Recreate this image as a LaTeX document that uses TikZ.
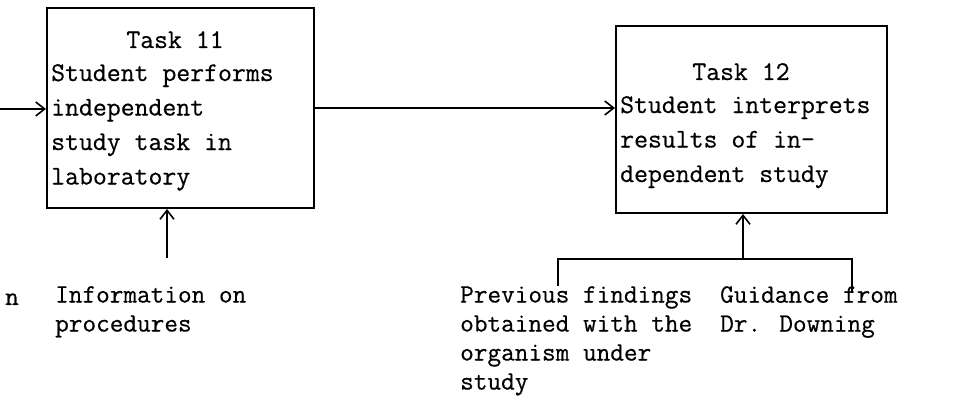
\documentclass[tikz,border=0pt]{standalone}
\usepackage{fontspec}
\usetikzlibrary{arrows.meta}
% typewriter face, slightly heavier than the stock mono
\newfontfamily\typer{Latin Modern Mono}[FakeBold=0.5]
\begin{document}
\begin{tikzpicture}[x=1pt,y=-1pt,
  taskbox/.style={draw,line width=2pt,inner sep=0pt},
  boxtext/.style={inner sep=0pt,align=left,
    font=\typer\bfseries\fontsize{27}{34.5}\selectfont},
  srctext/.style={inner sep=0pt,align=left,
    font=\typer\bfseries\fontsize{26.5}{29}\selectfont},
  link/.style={line width=1.6pt},
  arr/.style={link,-{Straight Barb[length=9pt,width=14pt,line width=1.6pt]}}]
  \useasboundingbox (0,0) rectangle (963,419);

  % the two task boxes
  \node[taskbox,minimum width=267pt,minimum height=200pt] (t11) at (180.5,108) {};
  \node[taskbox,minimum width=271pt,minimum height=187pt] (t12) at (751.5,119.5) {};

  % box captions
  \node[boxtext,anchor=base] (t11title) at (175,48) {Task 11};
  \node[boxtext,anchor=north west] (t11body) at (51,64)
    {Student performs\\independent\\study task in\\laboratory};
  \node[boxtext,anchor=base] (t12title) at (741,80) {Task 12};
  \node[boxtext,anchor=north west] (t12body) at (620,96)
    {Student interprets\\results of in-\\dependent study};

  % inputs below the boxes
  \node[srctext,anchor=base west] (cut) at (5,305) {n};
  \node[srctext,anchor=north west] (info) at (55,286)
    {Information on\\procedures};
  \node[srctext,anchor=north west] (prev) at (460,286)
    {Previous findings\\obtained with the\\organism under\\study};
  \node[srctext,anchor=north west] (guide) at (720,286)
    {Guidance from\\Dr. Downing};

  % connector endpoints
  \coordinate (entry) at (0,109);
  \coordinate (infotop) at (167,258);
  \coordinate (join) at (743,259);
  \coordinate (prevtop) at (558,286);
  \coordinate (guidetop) at (852,292);

  % flow
  \draw[arr] (entry) -- (entry -| t11.west);
  \draw[arr] (t11.east) -- (t11.east -| t12.west);
  \draw[arr] (infotop) -- (infotop |- t11.south);
  \draw[link] (prevtop) -- (prevtop |- join) -- (guidetop |- join) -- (guidetop);
  \draw[arr] (join) -- (join |- t12.south);
\end{tikzpicture}
\end{document}
